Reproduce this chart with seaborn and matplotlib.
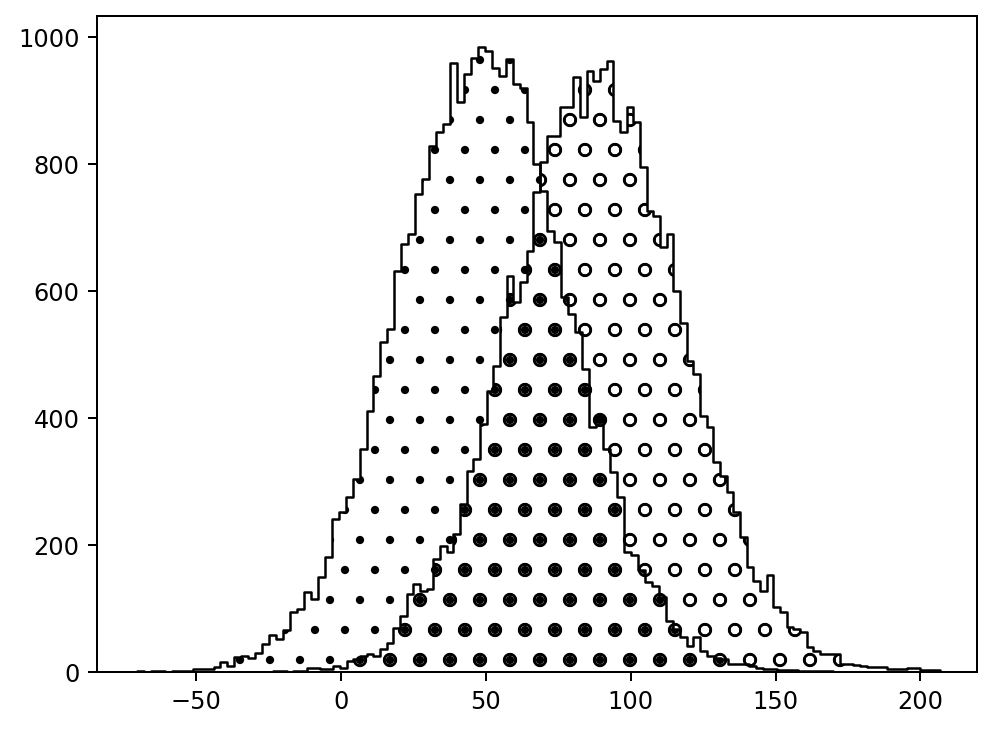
import numpy as np
import matplotlib
matplotlib.use("Agg")
import matplotlib.pyplot as plt
import seaborn as sns

# bin layout of the two histograms (left edge, bin width)
left_start, left_width = -70.3, 2.4
right_start, right_width = -23.3, 2.3

# counts per bin (100 bins each)
left_counts = [
    1, 0, 1, 1, 0, 2, 1, 2, 4, 5,
    4, 8, 15, 10, 23, 25, 22, 30, 44, 58,
    52, 66, 94, 99, 126, 115, 150, 181, 241, 252,
    275, 304, 351, 411, 466, 520, 540, 631, 674, 690,
    753, 776, 828, 850, 863, 959, 898, 942, 967, 984,
    978, 951, 939, 965, 926, 920, 866, 800, 757, 694,
    677, 590, 564, 535, 477, 386, 403, 351, 315, 275,
    189, 185, 160, 142, 136, 118, 80, 68, 55, 41,
    55, 33, 25, 22, 20, 13, 13, 13, 9, 6,
    5, 5, 3, 3, 3, 2, 2, 1, 1, 1,
]
right_counts = [
    2, 1, 0, 1, 1, 6, 7, 5, 5, 10,
    7, 17, 20, 25, 28, 25, 36, 46, 70, 88,
    123, 139, 128, 130, 178, 198, 189, 217, 265, 317,
    335, 390, 443, 482, 559, 624, 583, 614, 663, 756,
    803, 844, 844, 890, 890, 937, 874, 946, 931, 950,
    962, 868, 850, 890, 866, 795, 726, 718, 669, 690,
    600, 550, 490, 469, 403, 386, 330, 309, 283, 252,
    213, 165, 143, 128, 153, 102, 94, 71, 68, 63,
    39, 33, 28, 28, 28, 13, 12, 11, 10, 8,
    8, 8, 5, 5, 5, 6, 6, 3, 3, 3,
]

n_left, n_right = len(left_counts), len(right_counts)
left_range = (left_start, left_start + left_width * n_left)
right_range = (right_start, right_start + right_width * n_right)
left_mid = left_start + left_width * (np.arange(n_left) + 0.5)
right_mid = right_start + right_width * (np.arange(n_right) + 0.5)

plt.rcParams['font.size'] = 9.6
plt.rcParams['hatch.linewidth'] = 0.9

fig, ax = plt.subplots(figsize=(5.533, 4.072), dpi=180)
fig.subplots_adjust(left=97/996, right=977/996, bottom=1-673/733, top=1-17/733)

sns.histplot(x=left_mid, weights=left_counts, bins=n_left, binrange=left_range,
             element='step', fill=True, color='black', edgecolor='black',
             hatch='.', linewidth=1, ax=ax)
sns.histplot(x=right_mid, weights=right_counts, bins=n_right, binrange=right_range,
             element='step', fill=True, color='black', edgecolor='black',
             hatch='o', linewidth=1, ax=ax)
# hatch only, no fill
for coll in ax.collections:
    coll.set_facecolor('none')

ax.set_xlim(-84.1, 219.5)
ax.set_ylim(0, 1033)
ax.set_xticks([-50, 0, 50, 100, 150, 200])
ax.set_yticks([0, 200, 400, 600, 800, 1000])
ax.set_xlabel('')
ax.set_ylabel('')

fig.savefig('out.png', dpi=180)
